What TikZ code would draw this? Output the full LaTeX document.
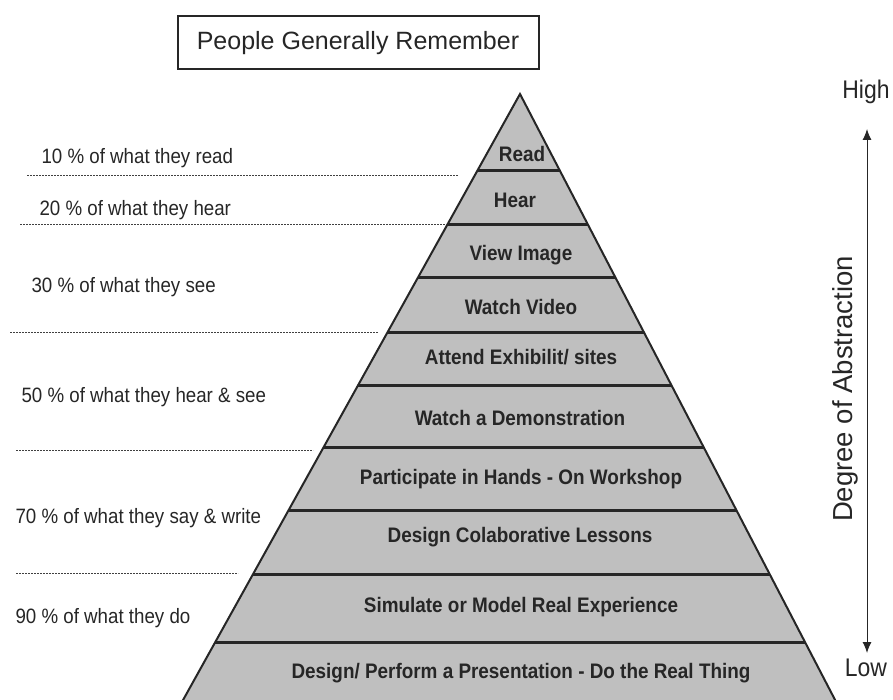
\documentclass[tikz,border=0pt]{standalone}
\usepackage{fontspec}
\setmainfont{Liberation Sans}[FakeStretch=0.9]
\newfontfamily\plainsans{Liberation Sans}
\usetikzlibrary{arrows.meta,calc,positioning}
\tikzset{
    layer/.style={font=\fontsize{21}{24}\selectfont\bfseries, text=black!85},
    remember/.style={font=\fontsize{20.8}{24}\selectfont, text=black!85, anchor=west},
    layer line/.style={line width=3pt, black!85},
    split line/.style={dash pattern=on 2pt off 1pt, line width=0.7pt, black!75},
    title box/.style={draw, line width=2pt, black!85, minimum width=361pt, minimum height=53pt, font=\plainsans\fontsize{25}{29}\selectfont},
    scale text/.style={font=\fontsize{25.5}{28}\selectfont, text=black!85}
}
\begin{document}
\begin{tikzpicture}[x=1pt, y=-1pt, >={Latex[length=11pt,width=9pt]}]
    \useasboundingbox (0,0) rectangle (893,700);
    \node[title box] (title) at (358,43) {People Generally Remember};

    % pyramid body and the lines between its layers
    \coordinate (apex) at (520,94);
    \coordinate (bl) at (177.5,710);
    \coordinate (br) at (840.3,710);
    \draw[line width=2pt, black!85, fill=black!25] (bl) -- (apex) -- (br);
    \foreach \y in {171,224.5,277.5,332.5,386,448,510,574,642}
        \draw[layer line] ($(apex)!{(\y-94)/616}!(bl)$) -- ($(apex)!{(\y-94)/616}!(br)$);

    \node[layer] (read) at (522,154) {Read};
    \node[layer] (hear) at (515,200) {Hear};
    \node[layer] (image) at (521,255) {View Image};
    \node[layer] (video) at (521,307) {Watch Video};
    \node[layer] (exhibit) at (521,357) {Attend Exhibilit/ sites};
    \node[layer] (demo) at (520,418) {Watch a Demonstration};
    \node[layer] (workshop) at (521,479) {Participate in Hands - On Workshop};
    \node[layer] (lessons) at (520,537) {Design Colaborative Lessons};
    \node[layer] (simulate) at (521,607) {Simulate or Model Real Experience};
    \node[layer] (realthing) at (521,673) {Design/ Perform a Presentation - Do the Real Thing};

    % what people remember
    \node[remember] (r10) at (38,158) {10 \% of what they read};
    \node[remember] (r20) at (36,210) {20 \% of what they hear};
    \node[remember] (r30) at (28,287) {30 \% of what they see};
    \node[remember] (r50) at (18,397) {50 \% of what they hear \& see};
    \node[remember] (r70) at (12,518) {70 \% of what they say \& write};
    \node[remember] (r90) at (12,618) {90 \% of what they do};
    \draw[split line] (27,175) -- (458,175);
    \draw[split line] (20,224) -- (447,224);
    \draw[split line] (10,332) -- (378,332);
    \draw[split line] (16,450) -- (313,450);
    \draw[split line] (16,573) -- (238,573);

    % abstraction scale
    \node[scale text] (high) at (866,92) {High};
    \node[scale text] (low) at (866,668) {Low};
    \coordinate (hightip) at (867,129);
    \coordinate (lowtip) at (867,653);
    \draw[<->, line width=1pt, black!85] (hightip) -- (lowtip);
    \node[scale text, rotate=90, font=\plainsans\fontsize{27.5}{30}\selectfont] (abstraction) at (845,389) {Degree of Abstraction};
\end{tikzpicture}
\end{document}
